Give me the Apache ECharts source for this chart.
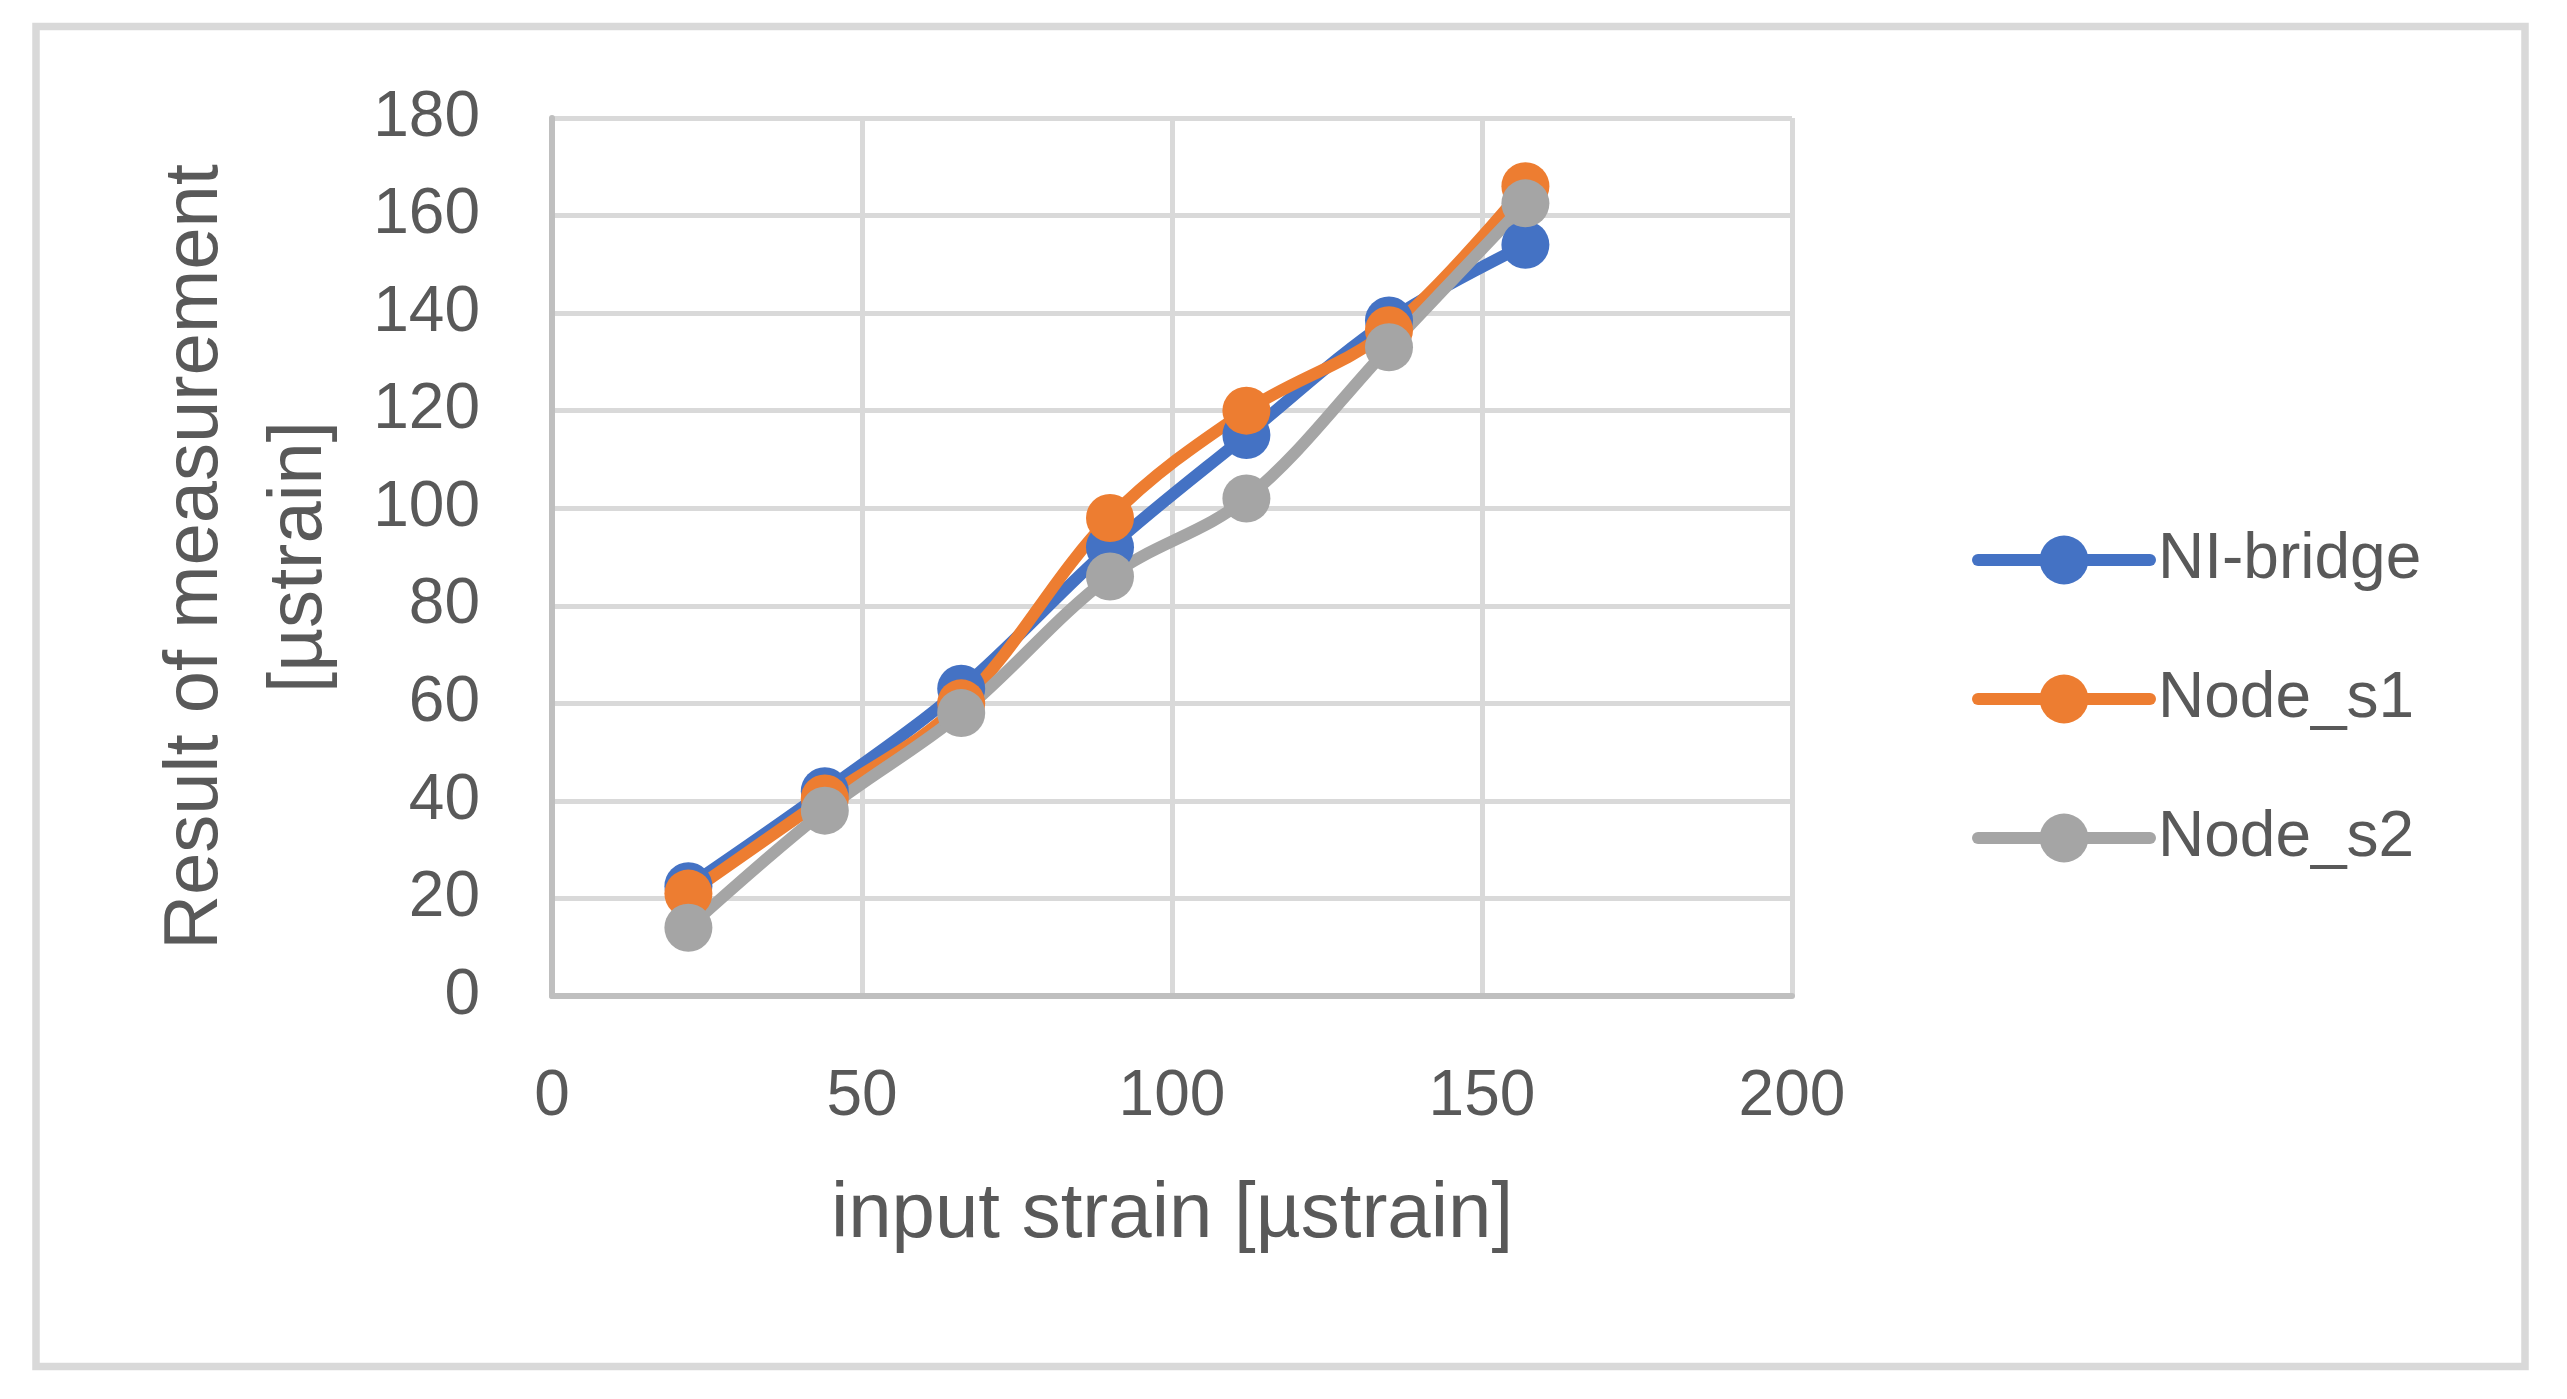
<!DOCTYPE html>
<html>
<head>
<meta charset="utf-8">
<script src="https://cdn.jsdelivr.net/npm/echarts@6/dist/echarts.min.js"></script>
<style>
  html, body { margin: 0; padding: 0; background: #ffffff; }
  #chart { width: 2567px; height: 1399px; }
</style>
</head>
<body>
<div id="chart"></div>
<script>
// ---- data ----
const inputStrain = [22, 44, 66, 90, 112, 135, 157];
const niBridge   = [22.5, 42, 63, 92, 115, 138.5, 154];
const nodeS1     = [21, 40.5, 60, 98, 120, 136.5, 166];
const nodeS2     = [14, 38, 58, 86, 102, 133, 162.5];
const seriesNames = ['NI-bridge', 'Node_s1', 'Node_s2'];
const xTicks = [0, 50, 100, 150, 200];
const yTicks = [0, 20, 40, 60, 80, 100, 120, 140, 160, 180];
const xTitle = 'input strain [µstrain]';
const yTitle = 'Result of measurement\n[µstrain]';

const colors = ['#4472C4', '#ED7D31', '#A5A5A5'];
const textColor = '#595959';
const font = 'Liberation Sans';

function pairs(ys) { return inputStrain.map((x, i) => [x, ys[i]]); }

const chart = echarts.init(document.getElementById('chart'), null, { renderer: 'canvas' });

const mkSeries = (name, ys, color) => ({
  name: name,
  type: 'line',
  data: pairs(ys),
  smooth: 0.35,
  symbol: 'circle',
  symbolSize: 48,
  showSymbol: true,
  lineStyle: { color: color, width: 12, cap: 'round', join: 'round' },
  itemStyle: { color: color },
  emphasis: { disabled: true },
  animation: false
});

chart.setOption({
  animation: false,
  backgroundColor: '#ffffff',
  color: colors,
  graphic: [{
    type: 'rect',
    shape: { x: 36, y: 26.5, width: 2489, height: 1340 },
    style: { fill: 'none', stroke: '#D9D9D9', lineWidth: 7.5 },
    silent: true,
    z: -10
  }],
  grid: { left: 552, right: 775, top: 118, bottom: 403, containLabel: false },
  legend: {
    orient: 'vertical',
    left: 1972,
    top: 528,
    padding: 0,
    itemWidth: 172,
    itemHeight: 61,
    itemGap: 75,
    data: seriesNames,
    lineStyle: { width: 12 },
    textStyle: { color: textColor, fontFamily: font, fontSize: 64, padding: [0, 0, 0, 3] }
  },
  xAxis: {
    type: 'value',
    min: xTicks[0],
    max: xTicks[xTicks.length - 1],
    interval: 50,
    name: xTitle,
    nameLocation: 'middle',
    nameGap: 180,
    nameTextStyle: { color: textColor, fontFamily: font, fontSize: 78 },
    axisLine: { show: true, lineStyle: { color: '#BFBFBF', width: 6 } },
    axisTick: { show: false },
    axisLabel: { color: textColor, fontFamily: font, fontSize: 64, margin: 69 },
    splitLine: { show: true, lineStyle: { color: '#D9D9D9', width: 5 } }
  },
  yAxis: {
    type: 'value',
    min: yTicks[0],
    max: yTicks[yTicks.length - 1],
    interval: 20,
    name: yTitle,
    nameLocation: 'middle',
    nameRotate: 90,
    nameGap: 200,
    nameTextStyle: { color: textColor, fontFamily: font, fontSize: 76, lineHeight: 104, align: 'center' },
    axisLine: { show: true, lineStyle: { color: '#BFBFBF', width: 6 } },
    axisTick: { show: false },
    axisLabel: { color: textColor, fontFamily: font, fontSize: 64, margin: 72 },
    splitLine: { show: true, lineStyle: { color: '#D9D9D9', width: 5 } }
  },
  series: [
    mkSeries(seriesNames[0], niBridge, colors[0]),
    mkSeries(seriesNames[1], nodeS1, colors[1]),
    mkSeries(seriesNames[2], nodeS2, colors[2])
  ]
});
</script>
</body>
</html>
